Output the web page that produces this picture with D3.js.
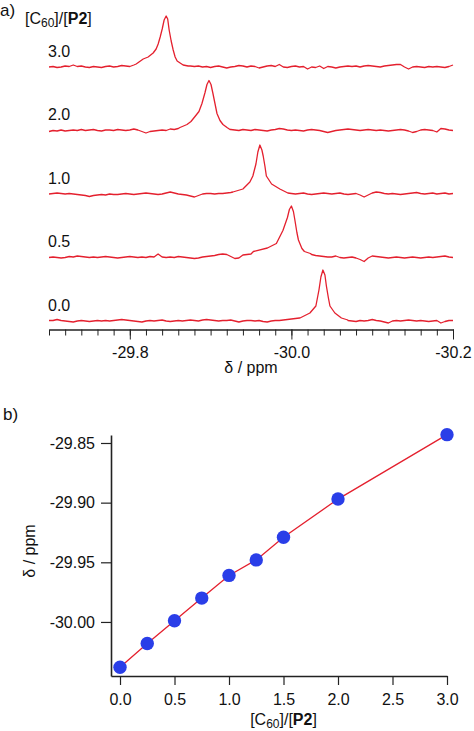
<!DOCTYPE html>
<html><head><meta charset="utf-8">
<script src="https://cdn.jsdelivr.net/npm/d3@7"></script>
<style>
body{margin:0;background:#fff}
svg text{font-family:"Liberation Sans",Arial,Helvetica,sans-serif;fill:#111}
</style>
</head><body>
<svg id="c" width="474" height="731"></svg>
<script>
// ---------- DATA ----------
const ratioLabels = ["3.0","2.0","1.0","0.5","0.0"];
const ppmGrid = [
 -29.700,-29.705,-29.710,-29.715,-29.720,-29.725,-29.730,-29.735,-29.740,-29.745,
 -29.750,-29.755,-29.760,-29.765,-29.770,-29.775,-29.780,-29.785,-29.790,-29.795,
 -29.800,-29.805,-29.810,-29.815,-29.820,-29.825,-29.830,-29.835,-29.840,-29.845,
 -29.850,-29.855,-29.860,-29.865,-29.870,-29.875,-29.880,-29.885,-29.890,-29.895,
 -29.900,-29.905,-29.910,-29.915,-29.920,-29.925,-29.930,-29.935,-29.940,-29.945,
 -29.950,-29.955,-29.960,-29.965,-29.970,-29.975,-29.980,-29.985,-29.990,-29.995,
 -30.000,-30.005,-30.010,-30.015,-30.020,-30.025,-30.030,-30.035,-30.040,-30.045,
 -30.050,-30.055,-30.060,-30.065,-30.070,-30.075,-30.080,-30.085,-30.090,-30.095,
 -30.100,-30.105,-30.110,-30.115,-30.120,-30.125,-30.130,-30.135,-30.140,-30.145,
 -30.150,-30.155,-30.160,-30.165,-30.170,-30.175,-30.180,-30.185,-30.190,-30.195,
 -30.200];
// baseline readings on ppmGrid (intensity, arbitrary units)
const noise30 = [
 0,0.5,-0.5,0,1,0.5,2,0.5,1,0,
 -0.5,0.5,0,-0.5,0.5,1,0,0.5,1.5,1,
 0.5,2,0,0,0,0,0,0,0,0,
 0,0,0,0,0,1,0.5,1,0,0.5,
 -0.5,0.5,1,0,-1,0,0.5,1.5,1,0,
 1,0.5,-1,0,1,1.5,0.5,2.5,0,-0.5,
 0.5,1,0,0.5,-2,0,-0.5,1,-1.5,0.5,
 0,-1,0,0.5,1,0.5,1,0,1,1.5,
 1,0.5,0,1,1.5,2,2.5,2.5,0,-2,
 0,0.5,0,-0.5,0.5,0,0.5,0,-0.5,0.5,
 2];
const noise20 = [
 -1,0,-0.5,0.5,-0.5,0,0.5,0,1,0,
 0.5,1,0,-0.5,0.5,0.5,0,1,0.5,0,
 0.5,1.5,0.5,-1,-2.5,-1,-0.5,0,0.5,0,
 1.5,1,2,0,0,0,0,0,0,0,
 0,0,0,0,0,1,0.5,0,1,0.5,
 0,1,0.5,0,-0.5,0.5,1,2,1.5,0.5,
 0,0.5,0,-0.5,0.5,1,0.5,0,-1,-2,
 -1,0,0.5,1,1.5,1,0.5,0,0.5,1,
 0.5,0,0.5,0,-0.5,0,0.5,1,0.5,-0.5,
 -2,-1,0.5,1,0.5,0,-1.5,2,1.5,0.5,
 0];
const noise10 = [
 0,0.5,1,0.5,0,0.5,0,-0.5,-1,-1.5,
 -2.5,-1.5,-1,-0.5,-1,0,-0.5,-0.5,0,0.5,
 0,-0.5,0,0.5,1,0.5,0,-0.5,0,1,
 2,1,0,-0.5,-1,-2,-3,-1.5,0,0.5,
 0.5,0,0.5,0.5,1,1.5,0,0,0,0,
 0,0,0,0,0,0,0,0,0,0,
 0.5,0,0.5,1,0,-0.5,0,0.5,1,0.5,
 0,0.5,1,0,-0.5,0,0.5,-1,-3,-1,
 1,2,1.5,0.5,0,0.5,0,-0.5,0,0.5,
 1,1.5,0.5,0,0.5,1,0,0.5,1,0,
 0.5];
const noise05 = [
 0,0.5,0,-0.5,0,1,0.5,1.5,1,0.5,
 0,0.5,0,0.5,1,0.5,0,-0.5,0,0.5,
 1,0.5,0,0.5,0,1,0.5,3.5,0.5,0,
 0.5,0,1,0.5,0,-0.5,-1,-0.5,0.5,1,
 1.5,2,3,3.5,3,1,-1,-0.5,2.5,3,
 3.5,0,0,0,0,0,0,0,0,0,
 0,0,0,0,0,3,2,1.5,1,0.5,
 0.5,1.5,0,-0.5,0,0.5,-0.5,-2,-4,-0.5,
 1.5,1,0.5,0,-0.5,0,0.5,0,-0.5,0,
 0.5,0,-0.5,0,0.5,0,0.5,1,1.5,0.5,
 0];
const noise00 = [
 0.5,0.5,1.5,0.5,0,-0.5,-1,0,0.5,0,
 -0.5,0,0.5,0,0.5,0,0.5,1,1.5,1,
 0.5,0,-0.5,-1,0,0.5,0,0.5,1,0,
 -0.5,0,0.5,0,0.5,1,0.5,0,1,1.5,
 1,0.5,0,0.5,0.5,1,0,-1,0,0.5,
 0.5,0,0.5,-0.5,-1,0,0.5,0.5,1,1.5,
 2,2.5,3,0,0,0,0,0,0,0,
 0,0,0,0,0.5,0,-0.5,0.5,0,0.5,
 1.5,0.5,0,-1,-2,0,0.5,0,0.5,1,
 0.5,0,0.5,0,-0.5,0,0.5,-2,-0.5,0.5,
 0.5];
// peak readings [ppm, intensity]
const peak30 = [[-29.8079,3],[-29.8166,8],[-29.8227,10],[-29.8289,14],[-29.8326,18],[-29.8351,23],[-29.8376,30],[-29.8401,38],[-29.8425,47],[-29.8450,51],[-29.8469,48],[-29.8487,37],[-29.8512,26],[-29.8537,17],[-29.8561,10],[-29.8586,6],[-29.8623,4],[-29.8660,2],[-29.8722,1]];
const peak20 = [[-29.8621,3],[-29.8708,6],[-29.8757,9],[-29.8807,14],[-29.8856,19],[-29.8893,27],[-29.8931,38],[-29.8955,46],[-29.8980,50],[-29.9005,46],[-29.9029,37],[-29.9054,27],[-29.9079,17],[-29.9116,10],[-29.9153,6],[-29.9203,3],[-29.9240,1]];
const peak10 = [[-29.9276,2],[-29.9400,5],[-29.9486,12],[-29.9523,18],[-29.9561,30],[-29.9585,42],[-29.9610,49],[-29.9635,44],[-29.9651,38],[-29.9672,28],[-29.9690,18],[-29.9755,10],[-29.9857,5],[-29.9956,1]];
const peak05 = [[-29.9530,6],[-29.9703,9.5],[-29.9814,14],[-29.9895,27],[-29.9951,40],[-29.9975,48],[-30.0000,51.5],[-30.0025,46],[-30.0043,37.5],[-30.0068,25],[-30.0087,17.5],[-30.0130,9],[-30.0161,6],[-30.0235,4]];
const peak00 = [[-30.0106,3],[-30.0229,8],[-30.0303,15],[-30.0341,31],[-30.0365,44],[-30.0390,51],[-30.0415,46],[-30.0433,35],[-30.0458,23],[-30.0477,15],[-30.0538,8],[-30.0619,3],[-30.0699,1]];
const spectraNoise = [noise30, noise20, noise10, noise05, noise00];
const spectraPeaks = [peak30, peak20, peak10, peak05, peak00];
const topMajorTicks = [-29.8,-30.0,-30.2];

const ratios = [0,0.25,0.5,0.75,1.0,1.25,1.5,2.0,3.0];
const shifts = [-30.038,-30.018,-29.999,-29.980,-29.961,-29.948,-29.929,-29.897,-29.843];
const xTicksB = [0,0.5,1.0,1.5,2.0,2.5,3.0];
const yTicksB = [-29.85,-29.90,-29.95,-30.00];

// ---------- DRAW ----------
const svg = d3.select("#c");
const RED = "#e4202e", BLUE = "#2a3ee8", AX = "#222";
const f1 = d => d.toFixed(1), f2 = d => d.toFixed(2);

// panel a
const xTop = d3.scaleLinear().domain([-29.7,-30.2]).range([49,453]);
const rowY = d3.scalePoint().domain(ratioLabels).range([67,321]);
const yI = d3.scaleLinear().domain([0,60]).range([0,-60]);
const line = d3.line().x(d=>xTop(d[0])).y(d=>yI(d[1]));

ratioLabels.forEach((lab,k)=>{
  const pk = spectraPeaks[k];
  const hi = d3.max(pk,d=>d[0]), lo = d3.min(pk,d=>d[0]);
  const pts = ppmGrid.map((p,i)=>[p, spectraNoise[k][i]])
    .filter(d=>d[0]>hi || d[0]<lo)
    .concat(pk).sort((a,b)=>b[0]-a[0]);
  const g = svg.append("g").attr("transform",`translate(0,${rowY(lab)})`);
  g.append("path").attr("d",line(pts)).attr("fill","none")
    .attr("stroke",RED).attr("stroke-width",1.3).attr("stroke-linejoin","round");
  svg.append("text").attr("x",48).attr("y",rowY(lab)-10.5)
    .attr("font-size",16).text(lab);
});

const axTopY = 329.5;
svg.append("g").attr("transform",`translate(0,${axTopY})`)
  .call(d3.axisBottom(xTop).ticks(25).tickSize(6).tickSizeOuter(0).tickFormat(""))
  .call(g=>{g.select(".domain").attr("stroke",AX).attr("stroke-width",1.5);g.selectAll(".tick line").attr("stroke",AX);});
svg.append("g").attr("transform",`translate(0,${axTopY})`)
  .call(d3.axisBottom(xTop).tickValues(topMajorTicks).tickSize(10).tickSizeOuter(0).tickPadding(7).tickFormat(f1))
  .call(g=>{g.select(".domain").remove();g.selectAll(".tick line").attr("stroke",AX);
    g.selectAll("text").attr("font-size",16).attr("fill","#111").attr("font-family",null);});

svg.append("text").attr("x",251).attr("y",373).attr("text-anchor","middle").attr("font-size",16).text("δ / ppm");

// header labels
svg.append("text").attr("x",0).attr("y",16).attr("font-size",17).text("a)");
const hdr = svg.append("text").attr("x",25).attr("y",24).attr("font-size",16);
hdr.append("tspan").text("[C");
hdr.append("tspan").attr("font-size",12).attr("dy",3).text("60");
hdr.append("tspan").attr("dy",-3).text("]/[");
hdr.append("tspan").attr("font-weight","bold").text("P2");
hdr.append("tspan").text("]");

// panel b
svg.append("text").attr("x",3).attr("y",420).attr("font-size",17).text("b)");
const xB = d3.scaleLinear().domain([-0.0826,3.0]).range([111,447]);
const yB = d3.scaleLinear().domain([-30.0453,-29.8433]).range([676,435]);

svg.append("g").attr("transform","translate(0,676)")
  .call(d3.axisBottom(xB).tickValues(xTicksB).tickSize(9).tickSizeOuter(0).tickPadding(8.5).tickFormat(f1))
  .call(g=>{g.select(".domain").attr("stroke",AX).attr("stroke-width",1.6);g.selectAll(".tick line").attr("stroke",AX).attr("stroke-width",1.2);
    g.selectAll("text").attr("font-size",16).attr("fill","#111").attr("font-family",null);});
svg.append("g").attr("transform","translate(111,0)")
  .call(d3.axisLeft(yB).tickValues(yTicksB).tickSize(10).tickSizeOuter(0).tickPadding(6).tickFormat(f2))
  .call(g=>{g.select(".domain").attr("stroke",AX).attr("stroke-width",1.6);g.selectAll(".tick line").attr("stroke",AX).attr("stroke-width",1.2);
    g.selectAll("text").attr("font-size",16).attr("fill","#111").attr("font-family",null);});

const pts = ratios.map((r,i)=>[r,shifts[i]]);
svg.append("path").attr("d",d3.line().x(d=>xB(d[0])).y(d=>yB(d[1]))(pts))
  .attr("fill","none").attr("stroke",RED).attr("stroke-width",1.3);
svg.append("g").selectAll("circle").data(pts).join("circle")
  .attr("cx",d=>xB(d[0])).attr("cy",d=>yB(d[1])).attr("r",6.7).attr("fill",BLUE);

svg.append("text").attr("transform","translate(35,551) rotate(-90)").attr("text-anchor","middle")
  .attr("font-size",16).text("δ / ppm");
const xt = svg.append("text").attr("x",283.5).attr("y",725).attr("text-anchor","middle").attr("font-size",16);
xt.append("tspan").text("[C");
xt.append("tspan").attr("font-size",12).attr("dy",3).text("60");
xt.append("tspan").attr("dy",-3).text("]/[");
xt.append("tspan").attr("font-weight","bold").text("P2");
xt.append("tspan").text("]");
</script>
</body></html>
